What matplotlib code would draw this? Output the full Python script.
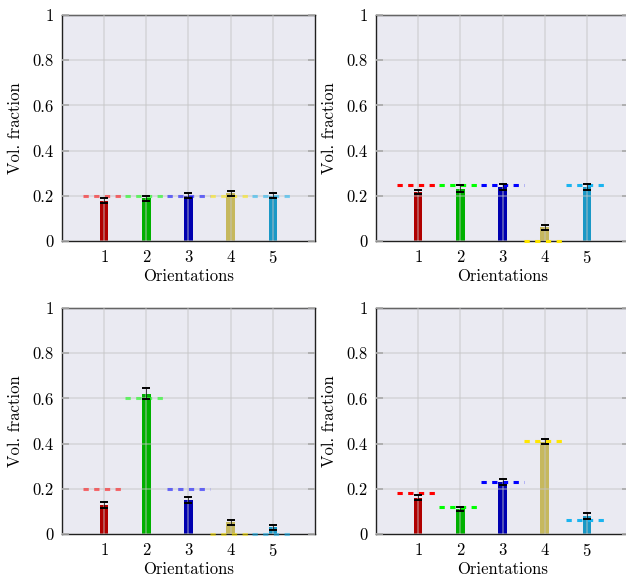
import matplotlib
matplotlib.use('Agg')
import matplotlib.pyplot as plt

plt.rcParams['font.family'] = ['cmr10', 'DejaVu Serif']
plt.rcParams['axes.formatter.use_mathtext'] = True
plt.rcParams['lines.scale_dashes'] = False

orientacoes = [1, 2, 3, 4, 5]

# valores medidos (barras), erro e valor alvo (tracejado) para cada painel
medido_a = [0.178, 0.19, 0.201, 0.211, 0.20]
erro_a = [0.011, 0.011, 0.012, 0.011, 0.011]
alvo_a = [0.2, 0.2, 0.2, 0.2, 0.2]

medido_b = [0.218, 0.232, 0.239, 0.06, 0.239]
erro_b = [0.008, 0.014, 0.012, 0.011, 0.012]
alvo_b = [0.25, 0.25, 0.25, 0.0, 0.25]

medido_c = [0.13, 0.621, 0.15, 0.051, 0.029]
erro_c = [0.013, 0.024, 0.015, 0.012, 0.012]
alvo_c = [0.2, 0.6, 0.2, 0.0, 0.0]

medido_d = [0.16, 0.11, 0.231, 0.409, 0.081]
erro_d = [0.011, 0.009, 0.012, 0.011, 0.013]
alvo_d = [0.18, 0.12, 0.23, 0.41, 0.06]

cores_barra = ['#b00000', '#00b000', '#0000b0', '#c6b85e', '#1a98c6']
cores_alvo = ['#ff0000', '#00ff00', '#0000ff', '#ffe600', '#1ab4f0']

fig = plt.figure(figsize=(6.26, 5.79), dpi=100)
W, H = 626.0, 579.0

paineis = [
    (62, 15, medido_a, erro_a, alvo_a, 0.55),
    (376, 15, medido_b, erro_b, alvo_b, 1.0),
    (62, 308, medido_c, erro_c, alvo_c, 0.55),
    (376, 308, medido_d, erro_d, alvo_d, 1.0),
]

for (x0, y0, medido, erro, alvo, alfa) in paineis:
    ax = fig.add_axes([x0 / W, (H - y0 - 226) / H, 253 / W, 226 / H])
    ax.set_facecolor('#eaeaf2')
    ax.bar(orientacoes, medido, width=0.2, color=cores_barra, zorder=2)
    for i, x in enumerate(orientacoes):
        ax.plot([x - 0.5, x + 0.5], [alvo[i], alvo[i]], color=cores_alvo[i],
                lw=2.2, alpha=alfa, dashes=(3.8, 3.9), zorder=3, clip_on=False)
    ax.errorbar(orientacoes, medido, yerr=erro, fmt='none', ecolor='black',
                elinewidth=0.5, capsize=2.6, capthick=1.4, zorder=4)
    ax.set_xlim(0, 6)
    ax.set_ylim(0, 1)
    ax.set_xticks(orientacoes)
    ax.set_yticks([0, 0.2, 0.4, 0.6, 0.8, 1])
    ax.set_yticklabels(['0', '0.2', '0.4', '0.6', '0.8', '1'])
    ax.set_axisbelow(False)
    ax.grid(True, color='#c4c4c4', lw=1.1, alpha=0.55)
    ax.tick_params(axis='x', length=0, pad=6, labelsize=12)
    ax.tick_params(axis='y', direction='in', length=5, width=1.2, color='#a8a8a8',
                   right=True, labelsize=12, pad=6)
    for lado in ['left', 'top', 'bottom', 'right']:
        ax.spines[lado].set_color('#202020')
        ax.spines[lado].set_linewidth(1.0)
    ax.set_xlabel('Orientations', fontsize=12, labelpad=2)
    ax.set_ylabel('Vol. fraction', fontsize=12, labelpad=7)

fig.savefig('out.png', dpi=100)
